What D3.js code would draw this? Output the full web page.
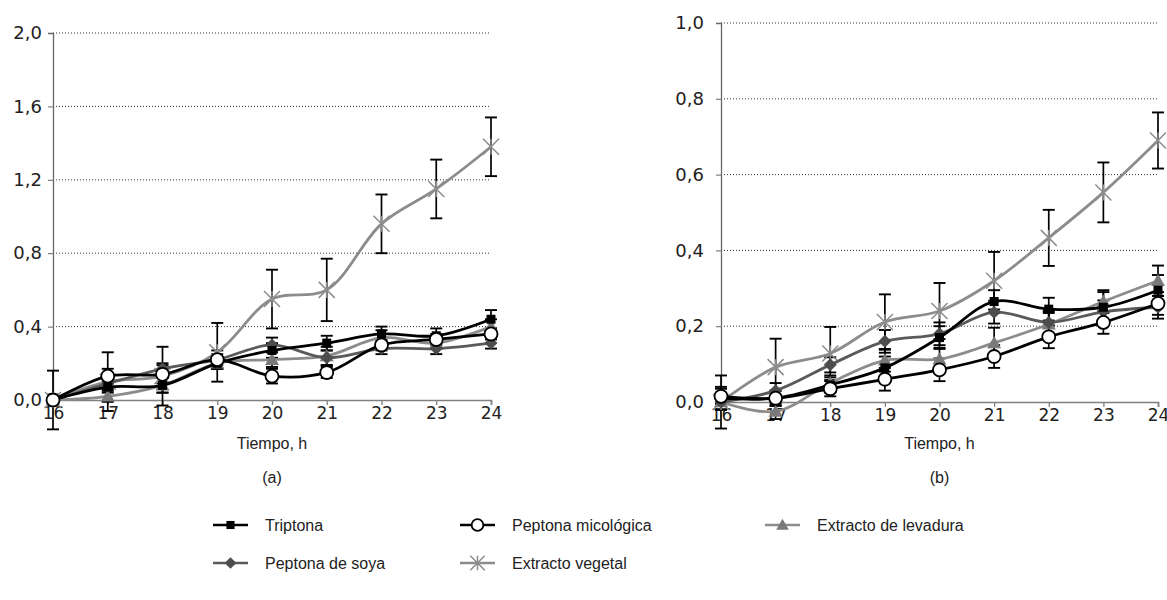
<!DOCTYPE html>
<html>
<head>
<meta charset="utf-8">
<script src="https://cdn.jsdelivr.net/npm/d3@7/dist/d3.min.js"></script>
<style>
  body { margin: 0; background: #fff; }
  text { font-family: "Liberation Sans", Arial, sans-serif; fill: #222; }
</style>
</head>
<body>
<svg id="chart" width="1167" height="600"></svg>
<script>
// Data
var hours = [16, 17, 18, 19, 20, 21, 22, 23, 24];
var yTicksA = [0, 0.4, 0.8, 1.2, 1.6, 2.0];
var yTicksB = [0, 0.2, 0.4, 0.6, 0.8, 1.0];
var seriesNames = ["Triptona", "Peptona micológica", "Extracto de levadura", "Peptona de soya", "Extracto vegetal"];

// panel (a)
var triptonaA   = [0.00, 0.07, 0.08, 0.20, 0.27, 0.31, 0.36, 0.35, 0.44];
var micologicaA = [0.00, 0.13, 0.14, 0.22, 0.13, 0.15, 0.30, 0.33, 0.36];
var levaduraA   = [0.00, 0.02, 0.08, 0.20, 0.22, 0.24, 0.34, 0.31, 0.40];
var soyaA       = [0.00, 0.09, 0.17, 0.22, 0.30, 0.23, 0.28, 0.28, 0.31];
var vegetalA    = [0.00, 0.10, 0.13, 0.26, 0.55, 0.60, 0.96, 1.15, 1.38];
var errTriptonaA   = [0.03, 0.03, 0.04, 0.03, 0.04, 0.04, 0.04, 0.04, 0.05];
var errMicologicaA = [0.02, 0.04, 0.05, 0.05, 0.04, 0.03, 0.03, 0.03, 0.03];
var errLevaduraA   = [0.02, 0.03, 0.04, 0.03, 0.04, 0.05, 0.04, 0.03, 0.04];
var errSoyaA       = [0.02, 0.03, 0.03, 0.03, 0.04, 0.04, 0.03, 0.03, 0.03];
var errVegetalA    = [0.16, 0.16, 0.16, 0.16, 0.16, 0.17, 0.16, 0.16, 0.16];

// panel (b)
var triptonaB   = [0.010, 0.010, 0.045, 0.090, 0.170, 0.265, 0.245, 0.250, 0.295];
var micologicaB = [0.015, 0.010, 0.035, 0.060, 0.085, 0.120, 0.172, 0.210, 0.260];
var levaduraB   = [0.000, -0.025, 0.050, 0.110, 0.113, 0.156, 0.205, 0.265, 0.320];
var soyaB       = [0.000, 0.030, 0.098, 0.160, 0.180, 0.237, 0.210, 0.238, 0.250];
var vegetalB    = [0.000, 0.092, 0.128, 0.211, 0.240, 0.320, 0.433, 0.553, 0.690];
var errTriptonaB   = [0.03, 0.02, 0.02, 0.03, 0.03, 0.03, 0.03, 0.04, 0.04];
var errMicologicaB = [0.02, 0.02, 0.02, 0.03, 0.03, 0.03, 0.03, 0.03, 0.03];
var errLevaduraB   = [0.02, 0.02, 0.02, 0.03, 0.03, 0.04, 0.03, 0.03, 0.04];
var errSoyaB       = [0.02, 0.02, 0.02, 0.03, 0.03, 0.03, 0.03, 0.03, 0.03];
var errVegetalB    = [0.07, 0.075, 0.07, 0.073, 0.074, 0.076, 0.074, 0.079, 0.074];

// look of each series (same order as seriesNames)
var styles = [
  { line: "#000000", marker: "square",   fill: "#000000" },
  { line: "#000000", marker: "circle",   fill: "#ffffff" },
  { line: "#8c8c8c", marker: "triangle", fill: "#7a7a7a" },
  { line: "#5a5a5a", marker: "diamond",  fill: "#4d4d4d" },
  { line: "#8c8c8c", marker: "star",     fill: "none" }
];

var panels = [
  { x0: 53, x1: 491, yTop: 33, yBot: 400, max: 2.0, ticks: yTicksA, label: "(a)", labelPad: 11,
    values: [triptonaA, micologicaA, levaduraA, soyaA, vegetalA],
    errors: [errTriptonaA, errMicologicaA, errLevaduraA, errSoyaA, errVegetalA] },
  { x0: 721, x1: 1158, yTop: 23, yBot: 402, max: 1.0, ticks: yTicksB, label: "(b)", labelPad: 17,
    values: [triptonaB, micologicaB, levaduraB, soyaB, vegetalB],
    errors: [errTriptonaB, errMicologicaB, errLevaduraB, errSoyaB, errVegetalB] }
];

var svg = d3.select("#chart");
var fmt = function(v) { return d3.format(".1f")(v).replace(".", ","); };
var tickFont = '"DejaVu Sans", Verdana, sans-serif';

function drawMarker(g, type, x, y, st, small) {
  var k = small ? 0.9 : 1;
  if (type === "square") {
    g.append("rect").attr("x", x - 4.5 * k).attr("y", y - 4.5 * k)
      .attr("width", 9 * k).attr("height", 9 * k).attr("fill", st.fill);
  } else if (type === "circle") {
    g.append("circle").attr("cx", x).attr("cy", y).attr("r", 6.5 * k)
      .attr("fill", "#fff").attr("stroke", "#000").attr("stroke-width", 1.8);
  } else if (type === "triangle") {
    var s = 7 * k;
    g.append("path").attr("d", "M" + x + "," + (y - s) + "L" + (x + s) + "," + (y + s * 0.75) +
      "L" + (x - s) + "," + (y + s * 0.75) + "Z").attr("fill", st.fill);
  } else if (type === "diamond") {
    var d = 6.5 * k;
    g.append("path").attr("d", "M" + x + "," + (y - d) + "L" + (x + d) + "," + y +
      "L" + x + "," + (y + d) + "L" + (x - d) + "," + y + "Z").attr("fill", st.fill);
  } else if (type === "star") {
    var r = 8 * k;
    g.append("path").attr("d", "M" + (x - r) + "," + (y - r) + "L" + (x + r) + "," + (y + r) +
      "M" + (x - r) + "," + (y + r) + "L" + (x + r) + "," + (y - r) +
      "M" + x + "," + (y - r) + "L" + x + "," + (y + r))
      .attr("stroke", st.line).attr("stroke-width", 1.5).attr("fill", "none");
  }
}

panels.forEach(function(p) {
  var g = svg.append("g");

  var xScale = d3.scaleLinear().domain([16, 24]).range([p.x0, p.x1]);
  var yScale = d3.scaleLinear().domain([0, p.max]).range([p.yBot, p.yTop]);

  // dotted gridlines
  g.selectAll(".grid").data(p.ticks.filter(function(t) { return t > 0; })).enter()
    .append("line")
    .attr("x1", p.x0).attr("x2", p.x1 - 1)
    .attr("y1", function(d) { return yScale(d); })
    .attr("y2", function(d) { return yScale(d); })
    .attr("stroke", "#333").attr("stroke-width", 1).attr("stroke-dasharray", "1,2");

  // y axis
  var yAxis = d3.axisLeft(yScale).tickValues(p.ticks).tickFormat(fmt)
    .tickSize(5).tickPadding(p.labelPad - 5);
  var ya = g.append("g").attr("transform", "translate(" + p.x0 + ",0)").call(yAxis);
  ya.select(".domain").attr("stroke", "#666").attr("stroke-width", 1.3);
  ya.selectAll(".tick line").attr("stroke", "#666");
  ya.selectAll("text").attr("font-size", 18).attr("fill", "#222")
    .style("font-family", tickFont);

  // x axis
  var xAxis = d3.axisBottom(xScale).tickValues(hours).tickFormat(d3.format("d"))
    .tickSizeOuter(0).tickSize(5).tickPadding(2);
  var xa = g.append("g").attr("transform", "translate(0," + p.yBot + ")").call(xAxis);
  xa.select(".domain").attr("stroke", "#808080").attr("stroke-width", 1.6);
  xa.selectAll(".tick line").attr("stroke", "#808080").attr("stroke-width", 1.3);
  xa.selectAll("text").attr("font-size", 17).attr("fill", "#222")
    .style("font-family", tickFont);

  var cx = (p.x0 + p.x1) / 2;
  g.append("text").attr("x", cx).attr("y", 449).attr("text-anchor", "middle")
    .attr("font-size", 16).text("Tiempo, h");
  g.append("text").attr("x", cx).attr("y", 483).attr("text-anchor", "middle")
    .attr("font-size", 16).text(p.label);

  // error bars
  p.values.forEach(function(vals, si) {
    var errs = p.errors[si];
    vals.forEach(function(v, i) {
      var x = xScale(hours[i]);
      var yHi = yScale(v + errs[i]), yLo = yScale(v - errs[i]);
      g.append("line").attr("x1", x).attr("x2", x).attr("y1", yHi).attr("y2", yLo)
        .attr("stroke", "#000").attr("stroke-width", 1.7);
      [yHi, yLo].forEach(function(yy) {
        g.append("line").attr("x1", x - 6).attr("x2", x + 6).attr("y1", yy).attr("y2", yy)
          .attr("stroke", "#000").attr("stroke-width", 1.9);
      });
    });
  });

  // lines and markers, drawn back to front
  var order = [4, 2, 3, 0, 1];
  var line = d3.line()
    .x(function(d, i) { return xScale(hours[i]); })
    .y(function(d) { return yScale(d); })
    .curve(d3.curveCatmullRom.alpha(0.5));
  order.forEach(function(si) {
    var st = styles[si];
    g.append("path").datum(p.values[si]).attr("d", line)
      .attr("fill", "none").attr("stroke", st.line).attr("stroke-width", 2.8);
    p.values[si].forEach(function(v, i) {
      drawMarker(g, st.marker, xScale(hours[i]), yScale(v), st, false);
    });
  });
});

// legend
var legendPos = [
  { x: 213, y: 525 }, { x: 460, y: 525 }, { x: 765, y: 525 },
  { x: 213, y: 563 }, { x: 460, y: 563 }
];
seriesNames.forEach(function(name, si) {
  var st = styles[si], pos = legendPos[si];
  var lg = svg.append("g");
  lg.append("line").attr("x1", pos.x).attr("x2", pos.x + 35)
    .attr("y1", pos.y).attr("y2", pos.y)
    .attr("stroke", st.line).attr("stroke-width", 2.4);
  drawMarker(lg, st.marker, pos.x + 17.5, pos.y, st, true);
  lg.append("text").attr("x", pos.x + 52).attr("y", pos.y + 6)
    .attr("font-size", 16).text(name);
});
</script>
</body>
</html>
